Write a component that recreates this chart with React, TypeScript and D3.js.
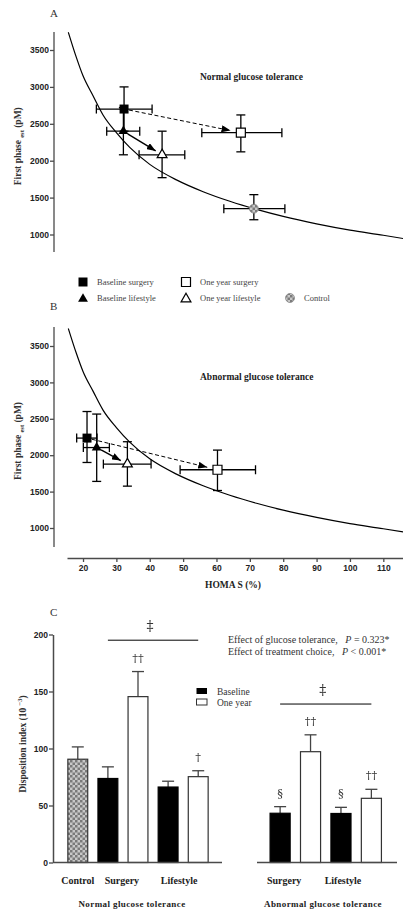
import * as d3 from "d3";
import { useEffect, useRef } from "react";

// shared axes of panels A and B
const homaTicks = [20, 30, 40, 50, 60, 70, 80, 90, 100, 110];
const phaseTicks = [1000, 1500, 2000, 2500, 3000, 3500];

// fitted hyperbola
const curveHoma = [15.6, 18, 20, 23, 26, 30, 34, 40, 48, 56, 64, 72, 80, 90, 100, 110, 116];
const curvePhase = [3740, 3400, 3150, 2880, 2620, 2380, 2180, 1950, 1740, 1580, 1450, 1340, 1245, 1145, 1060, 990, 945];

// groups: 0 baseline surgery, 1 one year surgery, 2 baseline lifestyle, 3 one year lifestyle, 4 control
const groupNames = ["Baseline surgery", "One year surgery", "Baseline lifestyle", "One year lifestyle", "Control"];

// panel A - normal glucose tolerance
const ngtHoma = [32.3, 67.3, 32.1, 43.7, 71.2];
const ngtHomaLo = [24, 55.6, 27.1, 36.8, 62.2];
const ngtHomaHi = [40.7, 79.6, 37, 50.5, 80.5];
const ngtPhase = [2700, 2380, 2400, 2080, 1350];
const ngtPhaseLo = [2400, 2120, 2080, 1770, 1200];
const ngtPhaseHi = [3000, 2620, 2720, 2400, 1540];

// panel B - abnormal glucose tolerance
const agtHoma = [21.2, 60.3, 24.1, 33.3];
const agtHomaLo = [18.1, 49.1, 20.1, 26.1];
const agtHomaHi = [24.2, 71.7, 27.9, 40.4];
const agtPhase = [2235, 1800, 2105, 1878];
const agtPhaseLo = [1900, 1515, 1640, 1575];
const agtPhaseHi = [2600, 2070, 2565, 2185];

// arrows baseline -> one year
const arrowFrom = [0, 2];
const arrowTo = [1, 3];
const arrowDashed = [true, false];

// panel C - disposition index
const diTicks = [0, 50, 100, 150, 200];
const ngtBars = ["Control", "Surgery baseline", "Surgery one year", "Lifestyle baseline", "Lifestyle one year"];
const ngtDI = [90.6, 73.7, 145.5, 66.2, 75.3];
const ngtDIErr = [101.4, 83.9, 167.5, 71.3, 80.5];
const ngtMarks = ["", "", "††", "", "†"];
const agtBars = ["Surgery baseline", "Surgery one year", "Lifestyle baseline", "Lifestyle one year"];
const agtDI = [43.2, 97.2, 43, 56.3];
const agtDIErr = [49, 112, 48.4, 64.2];
const agtMarks = ["§", "††", "§", "††"];
const bracketValue = [195, 139];

const SERIF = "'Liberation Serif', 'Times New Roman', serif";
const SYMBOL = "'DejaVu Serif', serif";
const SANS = "'Liberation Sans', Arial, sans-serif";
const AXIS = "#4a4a4a";

const App = () => {
  const svgRef = useRef<SVGSVGElement>(null);

  useEffect(() => {
    const svg = d3.select(svgRef.current);
    svg.selectAll("*").remove();

    const defs = svg.append("defs");
    //шахматка для контроля
    const pat = defs.append("pattern").attr("id", "checker")
      .attr("width", 5).attr("height", 5).attr("patternUnits", "userSpaceOnUse");
    pat.append("rect").attr("width", 5).attr("height", 5).attr("fill", "#c8c8c8");
    pat.append("rect").attr("width", 2.5).attr("height", 2.5).attr("fill", "#7a7a7a");
    pat.append("rect").attr("x", 2.5).attr("y", 2.5).attr("width", 2.5).attr("height", 2.5).attr("fill", "#7a7a7a");

    // grey filter so thin glyphs are not colour-fringed
    defs.append("filter").attr("id", "mono")
      .append("feColorMatrix").attr("type", "saturate").attr("values", 0);

    defs.append("marker").attr("id", "arrowHead")
      .attr("markerUnits", "userSpaceOnUse")
      .attr("markerWidth", 9).attr("markerHeight", 7)
      .attr("refX", 9).attr("refY", 3.5).attr("orient", "auto")
      .append("path").attr("d", "M0,0 L9,3.5 L0,7 Z").attr("fill", "#000");

    const x = d3.scaleLinear().domain([15.2, 115.9]).range([67, 403]);
    const squareSym = d3.symbol().type(d3.symbolSquare).size(81);
    const triSym = d3.symbol().type(d3.symbolTriangle).size(42);

    const drawMarker = (g, i, cx, cy) => {
      if (i === 0) g.append("path").attr("d", squareSym()).attr("transform", `translate(${cx},${cy})`).attr("fill", "#000");
      else if (i === 1) g.append("path").attr("d", squareSym()).attr("transform", `translate(${cx},${cy})`).attr("fill", "#fff").attr("stroke", "#000").attr("stroke-width", 1.2);
      else if (i === 2) g.append("path").attr("d", triSym()).attr("transform", `translate(${cx},${cy})`).attr("fill", "#000");
      else if (i === 3) g.append("path").attr("d", triSym()).attr("transform", `translate(${cx},${cy})`).attr("fill", "#fff").attr("stroke", "#000").attr("stroke-width", 1.2);
      else g.append("circle").attr("cx", cx).attr("cy", cy).attr("r", 4.5).attr("fill", "url(#checker)").attr("stroke", "#888").attr("stroke-width", 0.8);
    };

    const styleAxis = (g) => {
      g.selectAll("line").attr("stroke", AXIS).attr("stroke-width", 1.3);
      g.selectAll("path").attr("stroke", AXIS).attr("stroke-width", 1.5);
      g.selectAll("text").style("font-family", SANS).style("font-weight", "bold")
        .style("font-size", "8.5px").attr("fill", "#222");
    };

    //панель рассеяния (A или B)
    const drawScatter = (opts) => {
      const { y, top, bottom, homa, homaLo, homaHi, phase, phaseLo, phaseHi, title, titleY, letter, letterY, clipId } = opts;
      const n = homa.length;

      svg.append("text").attr("x", 50).attr("y", letterY).text(letter)
        .style("font-family", SERIF).style("font-size", "11px").attr("fill", "#333");

      const ay = svg.append("g").attr("transform", "translate(54,0)")
        .call(d3.axisLeft(y).tickValues(phaseTicks).tickSize(4).tickPadding(1).tickFormat(d3.format("d")));
      ay.select(".domain").remove();
      ay.append("line").attr("x1", 0).attr("x2", 0).attr("y1", top).attr("y2", bottom);
      styleAxis(ay);

      // y label
      const yl = svg.append("text")
        .attr("transform", `translate(21,${(y(1000) + y(3500)) / 2 + 4}) rotate(-90)`)
        .attr("text-anchor", "middle")
        .style("font-family", SERIF).style("font-weight", "bold").style("font-size", "9.5px").attr("fill", "#333");
      yl.append("tspan").text("First phase ");
      yl.append("tspan").text("est").style("font-size", "6.5px").attr("dy", 2.5);
      yl.append("tspan").text(" (pM)").attr("dy", -2.5);

      svg.append("text").attr("x", 200).attr("y", titleY).text(title)
        .style("font-family", SERIF).style("font-weight", "bold").style("font-size", "9.5px").attr("fill", "#222");

      defs.append("clipPath").attr("id", clipId).append("rect")
        .attr("x", 55).attr("y", top).attr("width", 348).attr("height", bottom - top);

      const line = d3.line<number>().x(h => x(h)).y((h, i) => y(curvePhase[i])).curve(d3.curveMonotoneX);
      svg.append("path").attr("d", line(curveHoma)).attr("fill", "none")
        .attr("stroke", "#000").attr("stroke-width", 1.2).attr("clip-path", `url(#${clipId})`);

      //error bars
      const eb = svg.append("g").attr("stroke", "#000").attr("stroke-width", 1.3);
      const c = 4.5;
      for (let i = 0; i < n; i++) {
        const cx = x(homa[i]), cy = y(phase[i]);
        eb.append("line").attr("x1", x(homaLo[i])).attr("x2", x(homaHi[i])).attr("y1", cy).attr("y2", cy);
        eb.append("line").attr("x1", x(homaLo[i])).attr("x2", x(homaLo[i])).attr("y1", cy - c).attr("y2", cy + c);
        eb.append("line").attr("x1", x(homaHi[i])).attr("x2", x(homaHi[i])).attr("y1", cy - c).attr("y2", cy + c);
        eb.append("line").attr("x1", cx).attr("x2", cx).attr("y1", y(phaseLo[i])).attr("y2", y(phaseHi[i]));
        eb.append("line").attr("x1", cx - c).attr("x2", cx + c).attr("y1", y(phaseLo[i])).attr("y2", y(phaseLo[i]));
        eb.append("line").attr("x1", cx - c).attr("x2", cx + c).attr("y1", y(phaseHi[i])).attr("y2", y(phaseHi[i]));
      }

      //arrows
      arrowFrom.forEach((f, k) => {
        const t = arrowTo[k];
        const x0 = x(homa[f]), y0 = y(phase[f]), x1 = x(homa[t]), y1 = y(phase[t]);
        const len = Math.hypot(x1 - x0, y1 - y0);
        const ux = (x1 - x0) / len, uy = (y1 - y0) / len;
        const s0 = 5, s1 = arrowDashed[k] ? 10.5 : 7.5;
        svg.append("line")
          .attr("x1", x0 + ux * s0).attr("y1", y0 + uy * s0)
          .attr("x2", x1 - ux * s1).attr("y2", y1 - uy * s1)
          .attr("stroke", "#000").attr("stroke-width", arrowDashed[k] ? 1 : 1.4)
          .attr("stroke-dasharray", arrowDashed[k] ? "4,2.5" : null)
          .attr("marker-end", "url(#arrowHead)");
      });

      for (let i = 0; i < n; i++) drawMarker(svg, i, x(homa[i]), y(phase[i]));
    };

    const yA = d3.scaleLinear().domain([1000, 3500]).range([234.5, 50]);
    drawScatter({
      y: yA, top: 32, bottom: 252, homa: ngtHoma, homaLo: ngtHomaLo, homaHi: ngtHomaHi,
      phase: ngtPhase, phaseLo: ngtPhaseLo, phaseHi: ngtPhaseHi,
      title: "Normal glucose tolerance", titleY: 80, letter: "A", letterY: 17, clipId: "clipA"
    });

    const yB = d3.scaleLinear().domain([1000, 3500]).range([528, 346]);
    drawScatter({
      y: yB, top: 327, bottom: 547, homa: agtHoma, homaLo: agtHomaLo, homaHi: agtHomaHi,
      phase: agtPhase, phaseLo: agtPhaseLo, phaseHi: agtPhaseHi,
      title: "Abnormal glucose tolerance", titleY: 380, letter: "B", letterY: 310, clipId: "clipB"
    });

    //ось x панели B
    const ax = svg.append("g").attr("transform", "translate(0,558)")
      .call(d3.axisBottom(x).tickValues(homaTicks).tickSize(4).tickPadding(3).tickSizeOuter(0));
    styleAxis(ax);
    svg.append("text").attr("x", 233).attr("y", 588).attr("text-anchor", "middle").text("HOMA S (%)")
      .style("font-family", SERIF).style("font-weight", "bold").style("font-size", "9.5px").attr("fill", "#222");

    //легенда
    const legendCol = [83, 186, 290];
    const legendRow = [282, 298];
    const itemCol = [0, 1, 0, 1, 2];
    const itemRow = [0, 0, 1, 1, 1];
    groupNames.forEach((name, i) => {
      const lx = legendCol[itemCol[i]], ly = legendRow[itemRow[i]];
      drawMarker(svg, i, lx, i === 2 || i === 3 ? ly + 1 : ly);
      svg.append("text").attr("x", lx + 14).attr("y", ly + 3).text(name)
        .style("font-family", SERIF).style("font-size", "8.5px").attr("fill", "#444");
    });

    // ===== panel C =====
    const yC = d3.scaleLinear().domain([0, 200]).range([862.5, 634.5]);
    svg.append("text").attr("x", 50).attr("y", 616).text("C")
      .style("font-family", SERIF).style("font-size", "11px").attr("fill", "#333");

    const ayC = svg.append("g").attr("transform", "translate(53,0)")
      .call(d3.axisLeft(yC).tickValues(diTicks).tickSize(4).tickPadding(1).tickSizeOuter(0));
    styleAxis(ayC);

    const ylC = svg.append("text")
      .attr("transform", `translate(26,744) rotate(-90)`)
      .attr("text-anchor", "middle")
      .style("font-family", SERIF).style("font-weight", "bold").style("font-size", "9.5px").attr("fill", "#333");
    ylC.append("tspan").text("Disposition index (10 ");
    ylC.append("tspan").text("−3").style("font-size", "6.5px").attr("dy", -4);
    ylC.append("tspan").text(")").attr("dy", 4);

    const xC1 = d3.scaleBand().domain(ngtBars).range([54, 222]).paddingInner(0.34).paddingOuter(0.46);
    const xC2 = d3.scaleBand().domain(agtBars).range([257, 394.5]).paddingInner(0.34).paddingOuter(0.43);

    const symbols = svg.append("g").attr("filter", "url(#mono)");

    const drawBars = (xs, cats, vals, errs, marks, axisFrom, axisTo) => {
      const g = svg.append("g");
      const bw = xs.bandwidth();
      cats.forEach((cat, i) => {
        const isControl = cat === "Control";
        const isBase = cat.endsWith("baseline");
        const bx = xs(cat);
        const cx = bx + bw / 2;
        g.append("line").attr("x1", cx).attr("x2", cx).attr("y1", yC(vals[i])).attr("y2", yC(errs[i]))
          .attr("stroke", "#444").attr("stroke-width", 1.3);
        g.append("line").attr("x1", cx - 6).attr("x2", cx + 6).attr("y1", yC(errs[i])).attr("y2", yC(errs[i]))
          .attr("stroke", "#444").attr("stroke-width", 1.3);
        g.append("rect").attr("x", bx).attr("y", yC(vals[i])).attr("width", bw)
          .attr("height", yC(0) - yC(vals[i]))
          .attr("fill", isControl ? "url(#checker)" : isBase ? "#000" : "#fff")
          .attr("stroke", isBase ? "#000" : "#333").attr("stroke-width", 1.2);
        if (marks[i]) {
          symbols.append("text").attr("x", cx).attr("y", yC(errs[i]) - 10).attr("text-anchor", "middle").text(marks[i])
            .style("font-family", SYMBOL).style("font-size", "11.5px").attr("fill", "#333");
        }
      });
      g.append("line").attr("x1", axisFrom).attr("x2", axisTo).attr("y1", yC(0)).attr("y2", yC(0))
        .attr("stroke", AXIS).attr("stroke-width", 1.5);
    };
    drawBars(xC1, ngtBars, ngtDI, ngtDIErr, ngtMarks, 53, 222);
    drawBars(xC2, agtBars, agtDI, agtDIErr, agtMarks, 257, 397);

    //скобки значимости
    [[xC1, ngtBars[1], ngtBars[4]], [xC2, agtBars[0], agtBars[3]]].forEach(([xs, a, b], k) => {
      const x0 = xs(a) + xs.bandwidth() / 2, x1 = xs(b) + xs.bandwidth() / 2;
      const by = yC(bracketValue[k]);
      svg.append("line").attr("x1", x0).attr("x2", x1).attr("y1", by).attr("y2", by)
        .attr("stroke", "#000").attr("stroke-width", 1);
      symbols.append("text").attr("x", (x0 + x1) / 2 - 3).attr("y", by - 9).attr("text-anchor", "middle").text("‡")
        .style("font-family", SYMBOL).style("font-size", "14px").attr("fill", "#333");
    });

    //подписи категорий
    const catStyle = (t) => t.style("font-family", SERIF).style("font-weight", "bold").style("font-size", "10px")
      .attr("fill", "#222").attr("text-anchor", "middle");
    catStyle(svg.append("text").attr("x", xC1("Control") + xC1.bandwidth() / 2).attr("y", 884).text("Control"));
    catStyle(svg.append("text").attr("x", xC1("Surgery baseline") + xC1.bandwidth() / 2 + 14).attr("y", 884).text("Surgery"));
    catStyle(svg.append("text").attr("x", xC1("Lifestyle baseline") + xC1.bandwidth() / 2 + 11).attr("y", 884).text("Lifestyle"));
    catStyle(svg.append("text").attr("x", xC2("Surgery baseline") + xC2.bandwidth() / 2 + 4).attr("y", 884).text("Surgery"));
    catStyle(svg.append("text").attr("x", xC2("Lifestyle baseline") + xC2.bandwidth() / 2 + 2).attr("y", 884).text("Lifestyle"));
    catStyle(svg.append("text").attr("x", 132).attr("y", 907).text("Normal glucose tolerance"))
      .style("font-size", "9px").style("letter-spacing", "0.4px");
    catStyle(svg.append("text").attr("x", 323).attr("y", 907).text("Abnormal glucose tolerance"))
      .style("font-size", "9px").style("letter-spacing", "0.4px");

    //легенда C
    svg.append("rect").attr("x", 196.5).attr("y", 688).attr("width", 10.5).attr("height", 6).attr("fill", "#000");
    svg.append("rect").attr("x", 196.5).attr("y", 699).attr("width", 10.5).attr("height", 6)
      .attr("fill", "#fff").attr("stroke", "#333").attr("stroke-width", 1);
    svg.append("text").attr("x", 217).attr("y", 694.5).text("Baseline")
      .style("font-family", SERIF).style("font-size", "9.5px").attr("fill", "#333");
    svg.append("text").attr("x", 217).attr("y", 705.5).text("One year")
      .style("font-family", SERIF).style("font-size", "9.5px").attr("fill", "#333");

    //статистика
    const stats = [["Effect of glucose tolerance,", "= 0.323*"], ["Effect of treatment choice,", "< 0.001*"]];
    stats.forEach(([lab, val], k) => {
      const t = svg.append("text").attr("x", 228).attr("y", 643 + k * 12)
        .style("font-family", SERIF).style("font-size", "10px").attr("fill", "#333")
        .attr("xml:space", "preserve");
      t.append("tspan").text(lab + "   ");
      t.append("tspan").text("P").style("font-style", "italic");
      t.append("tspan").text(" " + val);
    });
  }, []);

  return (
    <svg ref={svgRef} width={403} height={910}
      style={{ position: "absolute", left: 0, top: 0, background: "#fff" }} />
  );
};

export default App;
